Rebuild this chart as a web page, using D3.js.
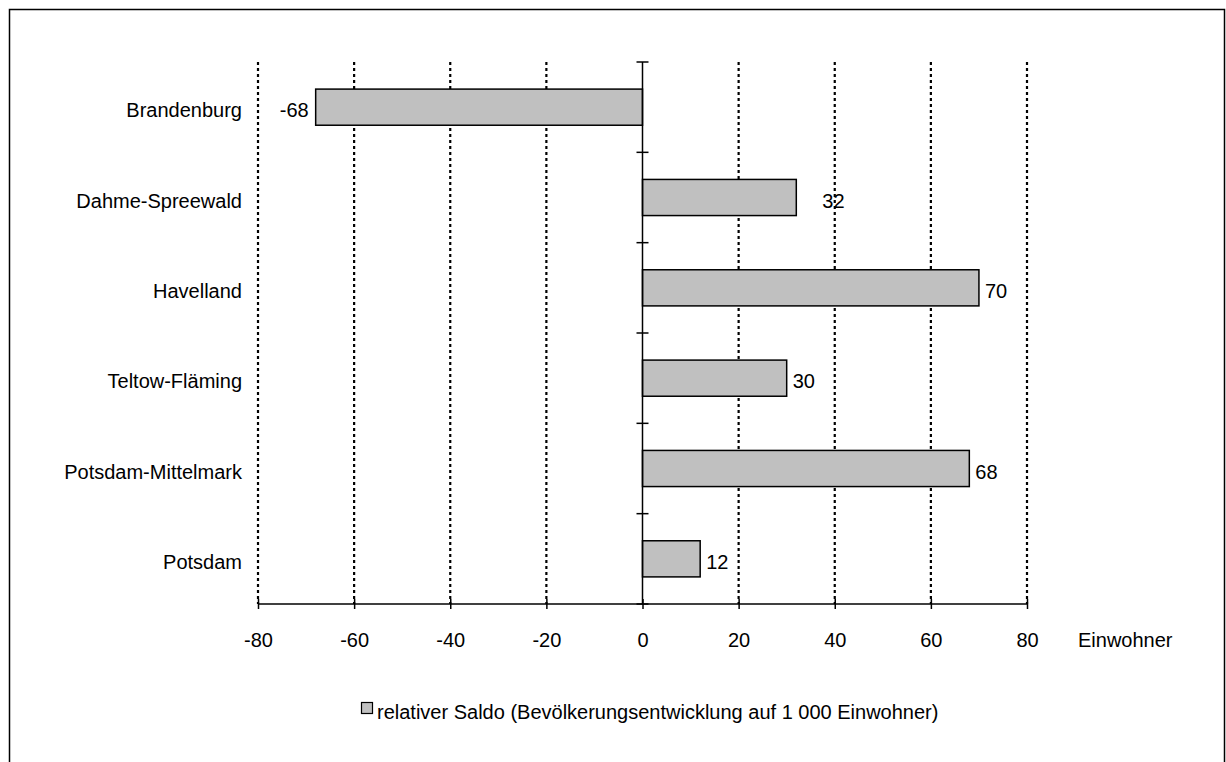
<!DOCTYPE html>
<html>
<head>
<meta charset="utf-8">
<script src="https://cdn.jsdelivr.net/npm/d3@7"></script>
<style>
  html, body { margin: 0; padding: 0; background: #fff; }
  svg { display: block; font-family: "Liberation Sans", Arial, sans-serif; }
</style>
</head>
<body>
<svg id="chart" width="1226" height="762"></svg>
<script>
// Districts and their relative balance (population change per 1 000 inhabitants)
const categories = ["Brandenburg", "Dahme-Spreewald", "Havelland", "Teltow-Fläming", "Potsdam-Mittelmark", "Potsdam"];
const values = [-68, 32, 70, 30, 68, 12];
const xTicks = [-80, -60, -40, -20, 0, 20, 40, 60, 80];
const axisUnit = "Einwohner";
const legendLabel = "relativer Saldo (Bevölkerungsentwicklung auf 1 000 Einwohner)";

const svg = d3.select("#chart");
const plot = { left: 258, right: 1027, top: 62, bottom: 604 };
const FS = 20;

// outer frame
svg.append("rect")
  .attr("x", 9.5).attr("y", 9.5)
  .attr("width", 1215).attr("height", 770)
  .attr("fill", "none").attr("stroke", "#000").attr("stroke-width", 1.5);

const x = d3.scaleLinear().domain([-80, 80]).range([plot.left, plot.right]);
const y = d3.scaleBand().domain(categories).range([plot.top, plot.bottom]).padding(0);
const barH = y.bandwidth() * 0.4;

// dotted vertical gridlines
svg.append("g").selectAll("line")
  .data(xTicks.filter(t => t !== 0))
  .join("line")
  .attr("x1", d => x(d)).attr("x2", d => x(d))
  .attr("y1", plot.top).attr("y2", plot.bottom)
  .attr("stroke", "#000").attr("stroke-width", 2.2)
  .attr("stroke-dasharray", "3,3");

// bars
svg.append("g").selectAll("rect")
  .data(values)
  .join("rect")
  .attr("x", d => x(Math.min(0, d)))
  .attr("width", d => Math.abs(x(d) - x(0)))
  .attr("y", (d, i) => y(categories[i]) + (y.bandwidth() - barH) / 2)
  .attr("height", barH)
  .attr("fill", "#c0c0c0").attr("stroke", "#000").attr("stroke-width", 1.5);

// value labels
svg.append("g").selectAll("text")
  .data(values)
  .join("text")
  .attr("x", (d, i) => {
    if (d < 0) return x(d) - 7;
    return x(d) + (categories[i] === "Dahme-Spreewald" ? 26 : 6);
  })
  .attr("y", (d, i) => y(categories[i]) + y.bandwidth() / 2)
  .attr("dy", "0.5em")
  .attr("text-anchor", d => d < 0 ? "end" : "start")
  .attr("font-size", FS)
  .text(d => d);

// category axis at zero
const yAxis = svg.append("g");
yAxis.append("line")
  .attr("x1", x(0)).attr("x2", x(0))
  .attr("y1", plot.top).attr("y2", plot.bottom)
  .attr("stroke", "#000").attr("stroke-width", 1.5);
yAxis.selectAll("line.tick")
  .data(d3.range(categories.length + 1))
  .join("line").attr("class", "tick")
  .attr("x1", x(0) - 6).attr("x2", x(0) + 6)
  .attr("y1", i => plot.top + i * y.step())
  .attr("y2", i => plot.top + i * y.step())
  .attr("stroke", "#000").attr("stroke-width", 1.5);

// category labels
svg.append("g").selectAll("text")
  .data(categories)
  .join("text")
  .attr("x", 242)
  .attr("y", d => y(d) + y.bandwidth() / 2)
  .attr("dy", "0.5em")
  .attr("text-anchor", "end")
  .attr("font-size", FS)
  .text(d => d);

// value axis
const xAxis = svg.append("g").attr("transform", `translate(0,${plot.bottom})`)
  .call(d3.axisBottom(x).tickValues(xTicks).tickSize(5).tickPadding(0).tickFormat(d => String(d)));
xAxis.select(".domain").attr("stroke", "#000").attr("stroke-width", 1.5).attr("d", `M${plot.left},0H${plot.right}`);
xAxis.selectAll(".tick line").attr("stroke", "#000").attr("stroke-width", 1.5).attr("y1", -5).attr("y2", 5);
xAxis.selectAll(".tick text")
  .attr("font-family", "Liberation Sans, Arial, sans-serif")
  .attr("font-size", FS).attr("fill", "#000")
  .attr("y", 43).attr("dy", 0);

svg.append("text")
  .attr("x", 1078).attr("y", 647)
  .attr("font-size", FS)
  .text(axisUnit);

// legend
const lg = svg.append("g");
lg.append("rect")
  .attr("x", 361.5).attr("y", 702.5)
  .attr("width", 11).attr("height", 11)
  .attr("fill", "#c0c0c0").attr("stroke", "#000").attr("stroke-width", 1.2);
lg.append("text")
  .attr("x", 377).attr("y", 719)
  .attr("font-size", FS)
  .text(legendLabel);
</script>
</body>
</html>
